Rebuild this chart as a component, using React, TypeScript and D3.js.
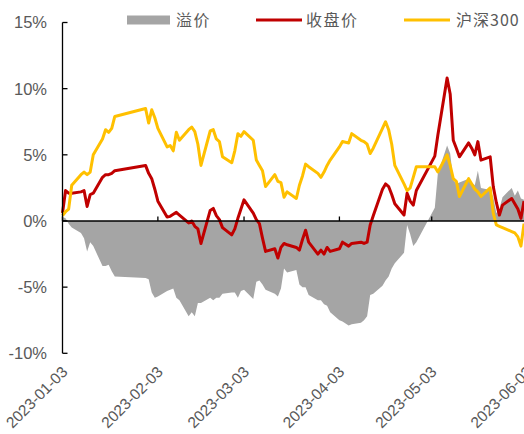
import React from "react";
import * as d3 from "d3";

const dates = [
  "2023-01-03","2023-01-04","2023-01-05","2023-01-06","2023-01-09","2023-01-10","2023-01-11","2023-01-12","2023-01-13","2023-01-16",
  "2023-01-17","2023-01-18","2023-01-19","2023-01-20","2023-01-30","2023-01-31","2023-02-01","2023-02-02","2023-02-03","2023-02-06",
  "2023-02-07","2023-02-08","2023-02-09","2023-02-10","2023-02-13","2023-02-14","2023-02-15","2023-02-16","2023-02-17","2023-02-20",
  "2023-02-21","2023-02-22","2023-02-23","2023-02-24","2023-02-27","2023-02-28","2023-03-01","2023-03-02","2023-03-03","2023-03-06",
  "2023-03-07","2023-03-08","2023-03-09","2023-03-10","2023-03-13","2023-03-14","2023-03-15","2023-03-16","2023-03-17","2023-03-20",
  "2023-03-21","2023-03-22","2023-03-23","2023-03-24","2023-03-27","2023-03-28","2023-03-29","2023-03-30","2023-03-31","2023-04-03",
  "2023-04-04","2023-04-06","2023-04-07","2023-04-10","2023-04-11","2023-04-12","2023-04-13","2023-04-14","2023-04-17","2023-04-18",
  "2023-04-19","2023-04-20","2023-04-21","2023-04-24","2023-04-25","2023-04-26","2023-04-27","2023-04-28","2023-05-04","2023-05-05",
  "2023-05-08","2023-05-09","2023-05-10","2023-05-11","2023-05-12","2023-05-15","2023-05-16","2023-05-17","2023-05-18","2023-05-19",
  "2023-05-22","2023-05-23","2023-05-24","2023-05-25","2023-05-26","2023-05-29","2023-05-30","2023-05-31","2023-06-01","2023-06-02",
];

// 收盘价 (%)
const closeRet = [
  0.6, 2.3, 2.1, 2.1, 2.2, 2.3, 1.1, 2.0, 2.1, 3.3,
  3.5, 3.5, 3.6, 3.8, 4.2, 3.6, 3.2, 2.4, 1.5, 0.3,
  0.35, 0.5, 0.65, 0.45, -0.15, 0.0, -0.4, -0.6, -1.7, 0.8,
  0.95, 0.4, 0.1, -0.5, -1.05, -0.6, 0.2, 0.9, 1.6, 0.6,
  0.1, -0.2, -1.3, -2.3, -2.1, -2.8, -2.0, -1.7, -1.8, -2.0,
  -2.2, -1.4, -0.7, -1.6, -2.5, -2.2, -2.5, -2.0, -2.3, -2.1,
  -1.6, -1.9, -1.7, -1.6, -1.7, -1.6, -0.3, 0.4, 2.4, 2.8,
  2.6, 2.0, 1.3, 0.45, 2.1, 1.5, 1.2, 2.3, 4.9, 6.5,
  10.8, 9.6, 6.1, 5.5, 4.85, 5.9, 5.5, 5.0, 6.0, 4.6,
  4.85, 2.6, 1.4, 0.45, 1.2, 1.7, 1.3, 0.9, 0.2, 1.5,
];

// 沪深300 (%)
const hs300Ret = [
  0.4, 0.7, 0.9, 2.7, 3.5, 3.7, 3.5, 3.7, 5.0, 6.2,
  6.9, 6.7, 7.0, 7.9, 8.5, 7.4, 8.4, 7.8, 7.0, 5.6,
  5.7, 5.3, 6.7, 6.1, 6.9, 7.1, 6.75, 5.8, 4.2, 6.8,
  6.9, 6.2, 6.0, 4.85, 4.4, 5.3, 6.6, 6.4, 6.75, 6.1,
  4.6, 4.2, 3.8, 2.6, 3.5, 3.0, 2.9, 1.8, 2.2, 1.7,
  2.7, 3.4, 4.3, 4.1, 3.6, 3.3, 3.7, 4.2, 4.6, 5.6,
  6.0, 5.9, 6.6, 6.1, 6.0, 5.8, 5.1, 5.5, 7.0, 7.5,
  6.9, 5.8, 4.2, 2.8, 2.3, 2.5, 3.3, 4.1, 4.1, 3.7,
  5.0, 4.2, 3.2, 3.0, 1.85, 3.2, 2.8, 2.4, 2.2, 1.85,
  2.5, 0.6, -0.3, -0.4, -0.5, -0.8, -0.9, -1.2, -1.9, -0.2,
];

// 溢价 (%)
const premium = [
  0.3, 0.2, -0.2, -0.5, -0.9, -1.3, -2.3, -1.6, -1.9, -3.4,
  -3.4, -3.3, -3.8, -4.2, -4.3, -4.4, -5.4, -5.8, -5.7, -5.3,
  -5.2, -5.1, -5.8, -6.0, -7.2, -6.9, -7.2, -6.2, -6.2, -5.8,
  -6.0, -5.8, -5.8, -5.5, -5.4, -5.4, -5.8, -5.3, -5.2, -5.9,
  -4.6, -4.5, -4.8, -5.2, -5.5, -5.7, -5.1, -3.6, -3.9, -3.7,
  -4.8, -5.0, -5.0, -5.6, -6.0, -6.0, -6.3, -6.4, -6.9, -7.5,
  -7.6, -7.9, -7.8, -7.7, -7.5, -7.2, -5.6, -5.5, -4.9, -4.5,
  -4.2, -3.6, -3.2, -2.4, -0.3, -1.0, -1.9, -1.6, 1.0, 3.6,
  5.7, 5.1, 3.1, 2.8, 2.9, 3.2, 2.9, 2.7, 3.8, 2.5,
  2.35, 1.8, 0.6, 0.9, 1.8, 2.5, 1.9, 2.3, 1.7, 1.6,
];

const yTicks = [15, 10, 5, 0, -5, -10];
const xTickLabels = ["2023-01-03", "2023-02-03", "2023-03-03", "2023-04-03", "2023-05-03", "2023-06-03"];
const legendItems = ["溢价", "收盘价", "沪深300"];

const W = 524;
const H = 434;
const parse = d3.utcParse("%Y-%m-%d");
const FONT = "'Liberation Sans', Arial, 'Noto Sans CJK SC', sans-serif";
const CJK = "'Noto Sans CJK SC', 'Liberation Sans', sans-serif";
const TXT = "#595959";
const GRAY = "#A5A5A5";
const RED = "#C00000";
const YEL = "#FFC000";

export default function App() {
  const x = d3
    .scaleUtc()
    .domain([parse("2023-01-03")!, parse("2023-06-03")!])
    .range([62.5, 527.1]);
  const y = d3.scaleLinear().domain([-10, 15]).range([353.3, 22.5]);

  const pts = dates.map((d, i) => ({
    t: parse(d)!,
    c: closeRet[i],
    h: hs300Ret[i],
    p: premium[i],
  }));

  const area = d3
    .area<any>()
    .x((d) => x(d.t))
    .y0(y(0))
    .y1((d) => y(d.p));
  const lineC = d3
    .line<any>()
    .x((d) => x(d.t))
    .y((d) => y(d.c));
  const lineH = d3
    .line<any>()
    .x((d) => x(d.t))
    .y((d) => y(d.h));

  const x0 = x(parse("2023-01-03")!);
  const xEnd = W;

  return (
    <svg
      width={W}
      height={H}
      style={{ position: "absolute", left: 0, top: 0, background: "#fff" }}
    >
      <path d={area(pts) || ""} fill={GRAY} />
      <path d={lineC(pts) || ""} fill="none" stroke={RED} strokeWidth={3} strokeLinejoin="round" />
      <path d={lineH(pts) || ""} fill="none" stroke={YEL} strokeWidth={3} strokeLinejoin="round" />

      {/* x axis at zero */}
      <line x1={x0} x2={xEnd} y1={y(0)} y2={y(0)} stroke="#000" strokeWidth={1.3} />
      {xTickLabels.map((s) => {
        const tx = x(parse(s)!);
        return (
          <g key={s}>
            <line x1={tx} x2={tx} y1={y(0)} y2={y(0) - 4.5} stroke="#000" strokeWidth={1.3} />
            <text
              transform={`translate(${tx + 6},${373}) rotate(-45)`}
              textAnchor="end"
              fontFamily={FONT}
              fontSize={15.5}
              fill={TXT}
            >
              {s}
            </text>
          </g>
        );
      })}

      {/* y axis */}
      <line x1={x0} x2={x0} y1={y(15)} y2={y(-10)} stroke="#000" strokeWidth={1.3} />
      {yTicks.map((v) => (
        <g key={v}>
          <line x1={x0} x2={x0 + 5} y1={y(v)} y2={y(v)} stroke="#000" strokeWidth={1.3} />
          <text
            x={47}
            y={y(v)}
            dy="0.36em"
            textAnchor="end"
            fontFamily={FONT}
            fontSize={16.5}
            fill={TXT}
          >
            {`${v}%`}
          </text>
        </g>
      ))}

      {/* legend */}
      <rect x={127} y={15.5} width={43} height={9} fill={GRAY} />
      <text x={176} y={26} fontFamily={CJK} fontSize={16} letterSpacing={1.5} fill={TXT}>
        {legendItems[0]}
      </text>
      <line x1={256} x2={302} y1={20} y2={20} stroke={RED} strokeWidth={3} />
      <text x={306} y={26} fontFamily={CJK} fontSize={16} letterSpacing={1.5} fill={TXT}>
        {legendItems[1]}
      </text>
      <line x1={404} x2={450} y1={20} y2={20} stroke={YEL} strokeWidth={3} />
      <text x={456} y={26} fontFamily={CJK} fontSize={16} letterSpacing={1} fill={TXT}>
        {legendItems[2]}
      </text>
    </svg>
  );
}
